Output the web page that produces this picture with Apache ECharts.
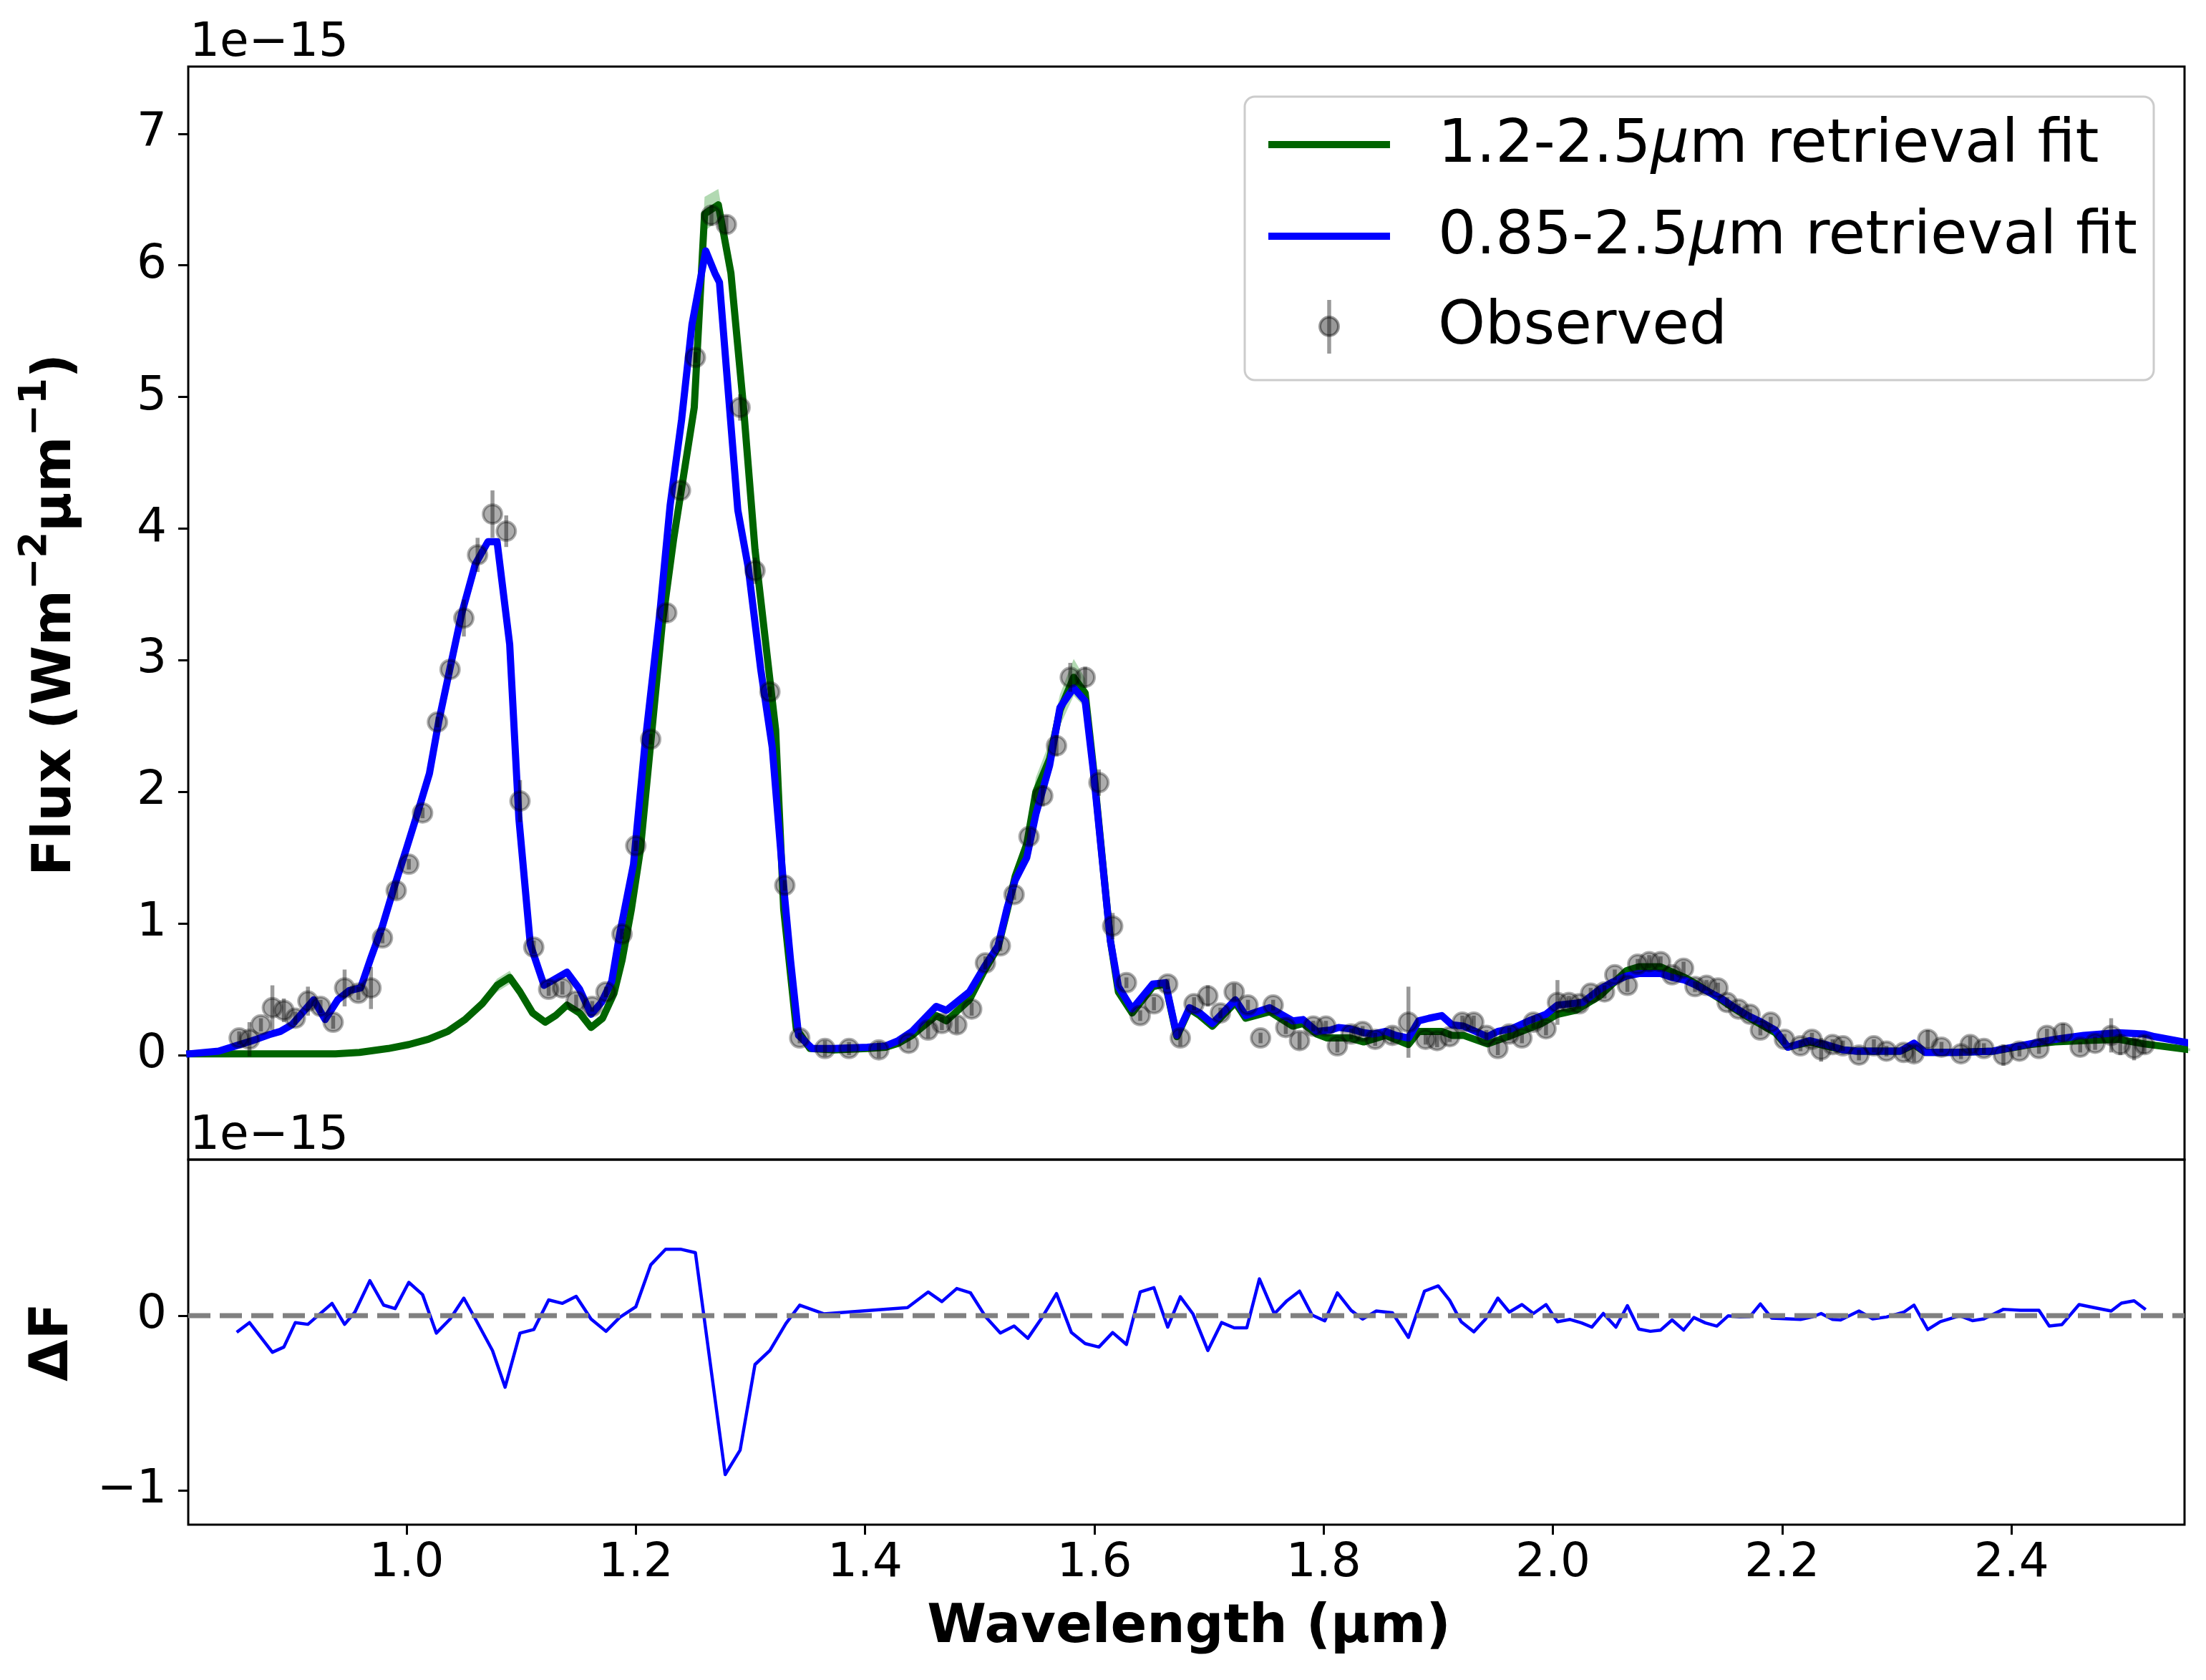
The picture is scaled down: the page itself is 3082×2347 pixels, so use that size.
<!DOCTYPE html>
<html>
<head>
<meta charset="utf-8">
<script src="https://cdn.jsdelivr.net/npm/echarts@6/dist/echarts.min.js"></script>
<style>
html,body{margin:0;padding:0;background:#fff;}
#c{width:3082px;height:2347px;}
</style>
</head>
<body>
<div id="c"></div>
<script>
// ---------------- data ----------------
const obsX = [0.854,0.863,0.873,0.883,0.893,0.903,0.914,0.925,0.936,0.946,
0.958,0.969,0.979,0.991,1.002,1.014,1.027,1.038,1.050,1.062,
1.075,1.087,1.099,1.111,1.124,1.136,1.148,1.162,1.174,1.188,
1.200,1.213,1.227,1.239,1.252,1.266,1.279,1.291,1.304,1.317,
1.330,1.343,1.365,1.386,1.412,1.438,1.455,1.467,1.480,1.493,
1.505,1.518,1.530,1.543,1.555,1.567,1.579,1.592,1.604,1.616,
1.628,1.640,1.652,1.664,1.675,1.687,1.699,1.710,1.722,1.734,
1.745,1.756,1.767,1.779,1.791,1.802,1.812,1.824,1.834,1.845,
1.860,1.874,1.889,1.899,1.910,1.921,1.931,1.942,1.952,1.962,
1.973,1.983,1.994,2.004,2.014,2.023,2.033,2.045,2.054,2.065,
2.074,2.084,2.094,2.104,2.114,2.124,2.134,2.144,2.152,2.162,
2.172,2.181,2.190,2.202,2.216,2.226,2.234,2.244,2.253,2.267,
2.280,2.291,2.306,2.315,2.327,2.339,2.356,2.364,2.376,2.393,
2.407,2.424,2.431,2.445,2.460,2.473,2.487,2.495,2.507,2.516];
const obsY = [0.13,0.12,0.23,0.36,0.34,0.28,0.41,0.37,0.25,0.51,
0.47,0.51,0.89,1.25,1.45,1.84,2.53,2.93,3.32,3.80,
4.11,3.98,1.93,0.82,0.50,0.51,0.41,0.37,0.48,0.92,
1.59,2.40,3.36,4.29,5.30,6.38,6.31,4.92,3.68,2.76,
1.29,0.13,0.05,0.05,0.04,0.09,0.19,0.24,0.23,0.35,
0.70,0.83,1.22,1.66,1.97,2.35,2.87,2.87,2.07,0.98,
0.55,0.30,0.39,0.54,0.13,0.39,0.45,0.32,0.48,0.38,
0.13,0.38,0.21,0.11,0.22,0.22,0.07,0.16,0.18,0.12,
0.15,0.25,0.12,0.11,0.14,0.25,0.25,0.15,0.05,0.16,
0.13,0.25,0.20,0.40,0.40,0.39,0.47,0.48,0.61,0.53,
0.69,0.71,0.71,0.61,0.66,0.52,0.53,0.51,0.40,0.35,
0.31,0.19,0.25,0.12,0.07,0.12,0.04,0.08,0.07,0.00,
0.07,0.03,0.02,0.01,0.12,0.06,0.01,0.08,0.05,0.00,
0.03,0.05,0.15,0.17,0.06,0.09,0.15,0.08,0.05,0.08];
const obsErr = [0.05,0.13,0.05,0.17,0.09,0.05,0.11,0.05,0.05,0.14,
0.05,0.16,0.04,0.06,0.04,0.04,0.04,0.04,0.14,0.13,
0.18,0.12,0.16,0.05,0.05,0.05,0.05,0.04,0.04,0.04,
0.04,0.04,0.07,0.04,0.04,0.08,0.07,0.10,0.10,0.04,
0.04,0.04,0.06,0.05,0.06,0.04,0.06,0.05,0.06,0.05,
0.05,0.04,0.04,0.06,0.08,0.08,0.11,0.08,0.10,0.10,
0.04,0.04,0.05,0.04,0.06,0.05,0.08,0.04,0.06,0.04,
0.04,0.04,0.05,0.06,0.04,0.04,0.05,0.04,0.04,0.05,
0.06,0.27,0.04,0.05,0.04,0.05,0.05,0.04,0.05,0.05,
0.04,0.05,0.05,0.17,0.05,0.04,0.04,0.05,0.04,0.05,
0.04,0.05,0.04,0.04,0.05,0.04,0.04,0.04,0.04,0.04,
0.04,0.04,0.04,0.04,0.04,0.05,0.09,0.04,0.04,0.04,
0.05,0.04,0.04,0.06,0.07,0.04,0.04,0.06,0.04,0.08,
0.04,0.04,0.05,0.07,0.04,0.05,0.13,0.08,0.09,0.07];

// 0.85-2.5 um retrieval fit (blue)
const blueX = [0.811,0.836,0.851,0.869,0.880,0.890,0.900,0.919,0.929,0.940,
0.950,0.960,0.969,0.979,0.989,1.000,1.010,1.020,1.028,1.037,
1.048,1.060,1.071,1.079,1.090,1.098,1.108,1.120,1.140,1.151,
1.161,1.170,1.179,1.186,1.198,1.208,1.221,1.230,1.240,1.249,
1.261,1.269,1.273,1.279,1.289,1.298,1.309,1.319,1.329,1.335,
1.342,1.354,1.373,1.402,1.418,1.429,1.441,1.462,1.471,1.491,
1.504,1.516,1.524,1.531,1.541,1.549,1.561,1.570,1.582,1.592,
1.599,1.608,1.614,1.621,1.633,1.651,1.662,1.672,1.683,1.692,
1.703,1.723,1.732,1.753,1.773,1.782,1.794,1.806,1.813,1.823,
1.835,1.843,1.854,1.863,1.874,1.883,1.892,1.903,1.912,1.922,
1.943,1.952,1.964,1.979,1.994,2.004,2.016,2.026,2.041,2.051,
2.064,2.075,2.094,2.104,2.115,2.125,2.136,2.147,2.157,2.170,
2.182,2.194,2.205,2.224,2.238,2.253,2.265,2.303,2.315,2.325,
2.352,2.384,2.416,2.438,2.463,2.493,2.516,2.525,2.556];
const blueY = [0.01,0.03,0.07,0.12,0.155,0.18,0.23,0.42,0.27,0.42,
0.49,0.51,0.74,0.98,1.27,1.57,1.85,2.14,2.53,2.90,
3.35,3.73,3.90,3.90,3.12,1.80,0.84,0.53,0.63,0.50,
0.31,0.40,0.56,0.92,1.45,2.36,3.36,4.18,4.83,5.55,
6.11,5.94,5.87,5.22,4.14,3.71,2.93,2.34,1.28,0.72,
0.15,0.05,0.05,0.06,0.07,0.11,0.18,0.37,0.34,0.48,
0.67,0.83,1.12,1.33,1.50,1.83,2.20,2.64,2.79,2.69,
2.17,1.39,0.87,0.52,0.35,0.54,0.55,0.15,0.36,0.32,
0.24,0.42,0.30,0.36,0.26,0.27,0.18,0.19,0.21,0.20,
0.17,0.16,0.18,0.15,0.13,0.26,0.28,0.30,0.23,0.22,
0.14,0.18,0.20,0.26,0.31,0.38,0.39,0.40,0.50,0.55,
0.60,0.62,0.62,0.59,0.57,0.53,0.48,0.43,0.37,0.30,
0.25,0.19,0.06,0.11,0.08,0.04,0.03,0.03,0.09,0.02,
0.02,0.03,0.085,0.12,0.15,0.17,0.16,0.14,0.09];

// 1.2-2.5 um retrieval fit (green) and its uncertainty half-width
const greenX = [0.811,0.938,0.959,0.984,1.002,1.019,1.036,1.051,1.066,1.079,
1.090,1.099,1.110,1.121,1.130,1.140,1.151,1.161,1.171,1.181,
1.188,1.196,1.204,1.223,1.233,1.251,1.260,1.272,1.283,1.294,
1.304,1.322,1.329,1.340,1.352,1.373,1.402,1.418,1.429,1.441,
1.462,1.471,1.491,1.504,1.516,1.524,1.531,1.541,1.549,1.561,
1.570,1.582,1.592,1.599,1.608,1.614,1.621,1.633,1.651,1.662,
1.672,1.683,1.692,1.703,1.723,1.732,1.753,1.773,1.782,1.794,
1.803,1.823,1.835,1.854,1.874,1.883,1.903,1.912,1.922,1.943,
1.964,1.990,2.004,2.020,2.041,2.064,2.075,2.094,2.115,2.125,
2.136,2.147,2.157,2.170,2.182,2.194,2.205,2.224,2.238,2.253,
2.265,2.303,2.315,2.325,2.352,2.384,2.416,2.438,2.463,2.493,
2.516,2.556];
const greenY = [0.01,0.01,0.02,0.05,0.08,0.12,0.18,0.27,0.39,0.53,
0.59,0.48,0.32,0.25,0.30,0.38,0.32,0.21,0.28,0.47,
0.72,1.10,1.56,3.27,3.92,4.92,6.39,6.46,5.94,4.92,
3.84,2.47,1.11,0.20,0.05,0.04,0.05,0.06,0.09,0.15,
0.30,0.26,0.42,0.64,0.82,1.10,1.36,1.60,2.00,2.25,
2.62,2.87,2.75,2.20,1.40,0.87,0.48,0.32,0.52,0.54,
0.14,0.35,0.30,0.22,0.40,0.28,0.33,0.22,0.24,0.16,
0.13,0.13,0.10,0.15,0.08,0.18,0.18,0.15,0.15,0.085,
0.15,0.24,0.31,0.34,0.45,0.64,0.67,0.67,0.59,0.54,
0.48,0.42,0.36,0.29,0.23,0.17,0.06,0.10,0.07,0.04,
0.03,0.03,0.08,0.02,0.02,0.03,0.08,0.10,0.11,0.12,
0.085,0.04];
const greenBand = [0.01,0.01,0.01,0.01,0.01,0.01,0.01,0.02,0.03,0.05,
0.05,0.03,0.02,0.01,0.01,0.02,0.01,0.01,0.01,0.02,
0.02,0.03,0.04,0.06,0.06,0.09,0.13,0.12,0.08,0.05,
0.04,0.03,0.02,0.01,0.01,0.01,0.01,0.01,0.01,0.01,
0.01,0.01,0.02,0.02,0.03,0.05,0.07,0.09,0.11,0.13,
0.12,0.14,0.11,0.06,0.04,0.03,0.02,0.01,0.02,0.02,
0.01,0.01,0.01,0.01,0.01,0.01,0.01,0.01,0.01,0.01,
0.01,0.01,0.01,0.01,0.01,0.01,0.01,0.01,0.01,0.01,
0.01,0.01,0.01,0.01,0.02,0.03,0.03,0.03,0.02,0.02,
0.02,0.01,0.01,0.01,0.01,0.01,0.01,0.01,0.01,0.01,
0.01,0.01,0.01,0.01,0.01,0.01,0.01,0.01,0.01,0.01,
0.01,0.01];

// residuals (lower panel)
const resX = [0.853,0.863,0.883,0.893,0.903,0.914,0.935,0.946,0.955,0.968,
0.980,0.990,1.002,1.014,1.026,1.038,1.050,1.061,1.075,1.086,
1.099,1.111,1.124,1.136,1.148,1.161,1.174,1.186,1.200,1.213,
1.226,1.239,1.252,1.278,1.291,1.304,1.317,1.331,1.343,1.364,
1.437,1.455,1.467,1.480,1.492,1.505,1.518,1.530,1.542,1.554,
1.567,1.580,1.592,1.604,1.616,1.628,1.640,1.652,1.664,1.675,
1.686,1.699,1.711,1.722,1.733,1.744,1.757,1.768,1.779,1.790,
1.801,1.812,1.824,1.834,1.846,1.860,1.874,1.888,1.900,1.910,
1.920,1.931,1.941,1.952,1.962,1.973,1.983,1.994,2.004,2.015,
2.025,2.034,2.044,2.055,2.065,2.075,2.085,2.094,2.104,2.114,
2.123,2.133,2.143,2.153,2.163,2.172,2.181,2.191,2.216,2.226,
2.234,2.244,2.251,2.267,2.279,2.291,2.306,2.315,2.327,2.338,
2.355,2.366,2.376,2.393,2.408,2.424,2.433,2.444,2.459,2.472,
2.487,2.496,2.507,2.516];
const resY = [-0.09,-0.04,-0.21,-0.18,-0.04,-0.05,0.07,-0.05,0.02,0.20,
0.06,0.04,0.19,0.12,-0.10,-0.02,0.10,-0.03,-0.20,-0.41,
-0.10,-0.08,0.09,0.07,0.11,-0.02,-0.09,-0.01,0.05,0.29,
0.38,0.38,0.36,-0.91,-0.77,-0.28,-0.20,-0.045,0.06,0.01,
0.046,0.135,0.08,0.155,0.13,-0.005,-0.10,-0.06,-0.13,-0.015,
0.126,-0.097,-0.16,-0.18,-0.097,-0.165,0.135,0.16,-0.066,0.108,
0.01,-0.20,-0.04,-0.07,-0.07,0.21,0.01,0.085,0.14,0.003,
-0.03,0.13,0.03,-0.02,0.026,0.016,-0.125,0.14,0.17,0.087,
-0.035,-0.093,-0.022,0.10,0.02,0.063,0.012,0.063,-0.035,-0.022,
-0.042,-0.066,0.012,-0.066,0.057,-0.077,-0.09,-0.083,-0.025,-0.083,
-0.011,-0.042,-0.06,-0.001,-0.008,-0.005,0.067,-0.015,-0.022,-0.008,
0.012,-0.022,-0.025,0.026,-0.019,-0.008,0.019,0.06,-0.08,-0.035,
-0.001,-0.029,-0.019,0.036,0.03,0.03,-0.06,-0.052,0.063,0.046,
0.026,0.071,0.085,0.04];

// axes / ticks
const xTicks = [1.0,1.2,1.4,1.6,1.8,2.0,2.2,2.4];
const fluxTicks = [0,1,2,3,4,5,6,7];
const resTicks = [-1,0];
const X_MIN = 0.8096, X_MAX = 2.551;
const FLUX_MIN = -0.794, FLUX_MAX = 7.51;
const RES_MIN = -1.197, RES_MAX = 0.893;

// ---------------- chart ----------------
const FONT = 'DejaVu Sans';
const pair = (xs, ys) => xs.map((x, i) => [x, ys[i]]);
const minus = v => (v < 0 ? '\u2212' + Math.abs(v) : String(v));

const chart = echarts.init(document.getElementById('c'), null, {renderer: 'canvas', width: 3082, height: 2347});

const tickStyle = {color: '#000', width: 3};
const baseY = (gi, min, max, ticks) => ({
  type: 'value', gridIndex: gi, min: min, max: max,
  axisLine: {show: false, onZero: false},
  axisTick: {show: true, length: 14, customValues: ticks, lineStyle: tickStyle},
  axisLabel: {show: true, customValues: ticks, formatter: minus, fontSize: 66, fontFamily: FONT, color: '#000', margin: 30},
  splitLine: {show: false}
});

const supBase = {fontSize: 75, fontWeight: 'bold', fontFamily: FONT, fill: '#000', lineHeight: 92, verticalAlign: 'bottom'};
const supSmall = {fontSize: 53, fontWeight: 'bold', fontFamily: FONT, fill: '#000', lineHeight: 53, verticalAlign: 'top'};

const option = {
  animation: false,
  backgroundColor: '#ffffff',
  grid: [
    {left: 263, top: 93, width: 2789, height: 1527, show: true, borderColor: '#000', borderWidth: 3, backgroundColor: 'transparent'},
    {left: 263, top: 1620, width: 2789, height: 510, show: true, borderColor: '#000', borderWidth: 3, backgroundColor: 'transparent'}
  ],
  xAxis: [
    {type: 'value', gridIndex: 0, min: X_MIN, max: X_MAX,
     axisLine: {show: false, onZero: false}, axisTick: {show: false}, axisLabel: {show: false}, splitLine: {show: false}},
    {type: 'value', gridIndex: 1, min: X_MIN, max: X_MAX,
     axisLine: {show: false, onZero: false},
     axisTick: {show: true, length: 14, customValues: xTicks, lineStyle: tickStyle},
     axisLabel: {show: true, customValues: xTicks, formatter: v => v.toFixed(1), fontSize: 66, fontFamily: FONT, color: '#000', margin: 22},
     splitLine: {show: false}}
  ],
  yAxis: [
    baseY(0, FLUX_MIN, FLUX_MAX, fluxTicks),
    baseY(1, RES_MIN, RES_MAX, resTicks)
  ],
  series: [
    { // uncertainty band of the green fit
      type: 'custom', xAxisIndex: 0, yAxisIndex: 0, z: 1, silent: true,
      data: [[greenX[0], greenY[0]]], encode: {x: 0, y: 1},
      renderItem: function (params, api) {
        const pts = [];
        for (let i = 0; i < greenX.length; i++) pts.push(api.coord([greenX[i], greenY[i] + greenBand[i]]));
        for (let i = greenX.length - 1; i >= 0; i--) pts.push(api.coord([greenX[i], greenY[i] - greenBand[i]]));
        return {type: 'polygon', shape: {points: pts}, style: {fill: 'rgba(0,128,0,0.3)'}};
      }
    },
    {
      name: '1.2-2.5\u03bcm retrieval fit', type: 'line', xAxisIndex: 0, yAxisIndex: 0, z: 2,
      data: pair(greenX, greenY), showSymbol: false, symbol: 'none',
      lineStyle: {color: '#006400', width: 10, join: 'round', cap: 'square'}
    },
    {
      name: '0.85-2.5\u03bcm retrieval fit', type: 'line', xAxisIndex: 0, yAxisIndex: 0, z: 3,
      data: pair(blueX, blueY), showSymbol: false, symbol: 'none',
      lineStyle: {color: '#0000ff', width: 10, join: 'round', cap: 'square'}
    },
    { // error bars
      type: 'custom', xAxisIndex: 0, yAxisIndex: 0, z: 4, silent: true,
      data: obsX.map((x, i) => [x, obsY[i], obsErr[i]]), encode: {x: 0, y: 1},
      renderItem: function (params, api) {
        const x = api.value(0), y = api.value(1), e = api.value(2);
        const a = api.coord([x, y - e]), b = api.coord([x, y + e]);
        return {type: 'line', shape: {x1: a[0], y1: a[1], x2: b[0], y2: b[1]}, style: {stroke: 'rgba(0,0,0,0.4)', lineWidth: 5.5}};
      }
    },
    {
      name: 'Observed', type: 'scatter', xAxisIndex: 0, yAxisIndex: 0, z: 5,
      data: pair(obsX, obsY), symbol: 'circle', symbolSize: 26,
      itemStyle: {color: 'rgba(0,0,0,0.4)', borderColor: 'rgba(0,0,0,0.4)', borderWidth: 4}
    },
    {
      name: 'residual', type: 'line', xAxisIndex: 1, yAxisIndex: 1, z: 2,
      data: pair(resX, resY), showSymbol: false, symbol: 'none',
      lineStyle: {color: '#0000ff', width: 4.5, join: 'round', cap: 'square'}
    },
    { // zero reference line
      type: 'line', xAxisIndex: 1, yAxisIndex: 1, z: 3, silent: true,
      data: [[X_MIN, 0], [X_MAX, 0]], showSymbol: false, symbol: 'none',
      lineStyle: {color: '#808080', width: 7, type: [31, 13], cap: 'butt'}
    }
  ],
  graphic: [
    // offset texts
    {type: 'text', left: 265, top: 28, style: {text: '1e\u221215', fontSize: 66, fontFamily: FONT, fill: '#000'}},
    {type: 'text', left: 265, top: 1555, style: {text: '1e\u221215', fontSize: 66, fontFamily: FONT, fill: '#000'}},
    // axis titles
    {type: 'text', x: 70, y: 859, rotation: Math.PI / 2,
     style: {text: '{b|Flux (Wm}{s|\u22122}{b|\u03bcm}{s|\u22121}{b|)}', fontSize: 75, fontWeight: 'bold', fontFamily: FONT, fill: '#000',
             align: 'center', verticalAlign: 'middle', rich: {b: supBase, s: supSmall}}},
    {type: 'text', x: 75, y: 1875, rotation: Math.PI / 2,
     style: {text: '\u0394F', fontSize: 75, fontWeight: 'bold', fontFamily: FONT, fill: '#000', align: 'center', verticalAlign: 'middle'}},
    {type: 'text', x: 1661, y: 2275,
     style: {text: 'Wavelength (\u00b5m)', fontSize: 75, fontWeight: 'bold', fontFamily: FONT, fill: '#000', align: 'center', verticalAlign: 'middle'}},
    // legend
    {type: 'rect', z: 100, shape: {x: 1739, y: 135, width: 1270, height: 396, r: 14},
     style: {fill: 'rgba(255,255,255,0.8)', stroke: '#cccccc', lineWidth: 3}},
    {type: 'line', z: 101, shape: {x1: 1772, y1: 202, x2: 1942, y2: 202}, style: {stroke: '#006400', lineWidth: 10}},
    {type: 'text', z: 101, x: 2009, y: 204,
     style: {text: '1.2-2.5{i|\u03bc}m retrieval fit', fontSize: 84, fontFamily: FONT, fill: '#000', verticalAlign: 'middle',
             rich: {i: {fontSize: 84, fontFamily: FONT, fontStyle: 'italic', fill: '#000'}}}},
    {type: 'line', z: 101, shape: {x1: 1772, y1: 330, x2: 1942, y2: 330}, style: {stroke: '#0000ff', lineWidth: 10}},
    {type: 'text', z: 101, x: 2009, y: 332,
     style: {text: '0.85-2.5{i|\u03bc}m retrieval fit', fontSize: 84, fontFamily: FONT, fill: '#000', verticalAlign: 'middle',
             rich: {i: {fontSize: 84, fontFamily: FONT, fontStyle: 'italic', fill: '#000'}}}},
    {type: 'line', z: 101, shape: {x1: 1857, y1: 419, x2: 1857, y2: 494}, style: {stroke: 'rgba(0,0,0,0.4)', lineWidth: 5.5}},
    {type: 'circle', z: 102, shape: {cx: 1857, cy: 456, r: 13}, style: {fill: 'rgba(0,0,0,0.4)', stroke: 'rgba(0,0,0,0.4)', lineWidth: 4}},
    {type: 'text', z: 101, x: 2009, y: 458,
     style: {text: 'Observed', fontSize: 84, fontFamily: FONT, fill: '#000', verticalAlign: 'middle'}}
  ]
};
chart.setOption(option);
</script>
</body>
</html>
